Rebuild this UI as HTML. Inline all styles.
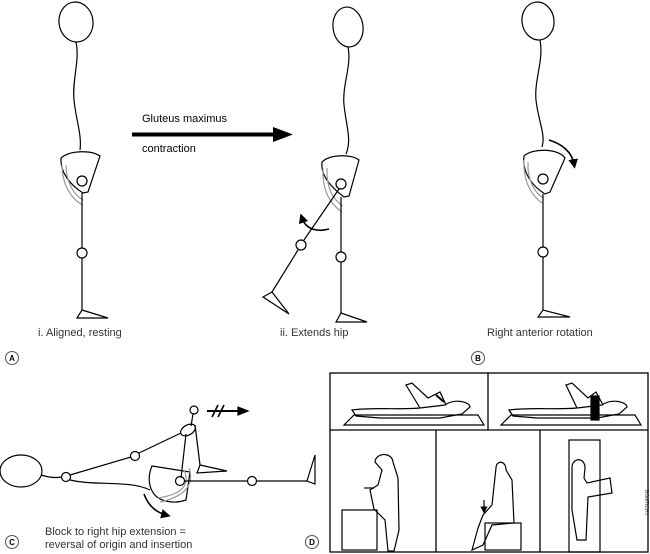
<!DOCTYPE html>
<html><head><meta charset="utf-8"><style>
body{margin:0;background:#fff;}
svg{display:block;font-family:"Liberation Sans",sans-serif;}
</style></head><body>
<svg width="650" height="554" viewBox="0 0 650 554" xmlns="http://www.w3.org/2000/svg">
<defs>
<marker id="ah" markerWidth="6" markerHeight="6" refX="3" refY="3" orient="auto"><path d="M0,0 L6,3 L0,6 z" fill="#000"/></marker>
</defs>
<g fill="none" stroke="#000" stroke-width="1.2">
<!-- Figure 1 -->
<ellipse cx="76" cy="22" rx="17" ry="20" transform="rotate(-8 76 22)"/>
<path d="M76,42 C80,60 72,80 74,100 C76,120 82,135 80,150"/>
<path d="M61,158 C70,150 92,150 100,156 L88,192 L83,193 C70,185 60,172 61,158 z"/>
<path d="M62,165 C62,185 72,200 83,205" stroke="#999"/>
<path d="M66,165 C66,182 74,195 83,200" stroke="#999"/>
<circle cx="82" cy="181" r="5"/>
<line x1="82" y1="193" x2="82" y2="248"/><circle cx="82" cy="253" r="5"/><line x1="82" y1="258" x2="82" y2="310"/>
<path d="M82,310 L77,318 L108,318 z"/>
<!-- Figure 2 -->
<ellipse cx="348" cy="27" rx="15" ry="20" transform="rotate(-8 348 27)"/>
<path d="M348,47 C352,65 342,85 344,105 C346,125 352,140 346,154"/>
<path d="M322,162 C330,154 352,154 359,160 L349,196 L344,197 C332,188 320,176 322,162 z"/>
<path d="M323,168 C322,190 330,204 342,212" stroke="#999"/>
<path d="M327,168 C326,187 333,200 343,206" stroke="#999"/>
<circle cx="341" cy="184" r="5"/>
<line x1="341" y1="197" x2="341" y2="252"/><circle cx="341" cy="257" r="5"/><line x1="341" y1="262" x2="341" y2="313"/>
<path d="M341,313 L336,322 L367,322 z"/>
<line x1="339" y1="189" x2="304" y2="240"/><circle cx="301" cy="245" r="5"/><line x1="298" y1="250" x2="272" y2="292"/>
<path d="M272,292 L263,297 L289,314 z"/>
<path d="M329,229 C318,232 306,230 302,218" stroke-width="1.6" marker-end="url(#ah)"/>
<!-- Figure 3 -->
<ellipse cx="538" cy="21" rx="16" ry="19" transform="rotate(-8 538 21)"/>
<path d="M540,40 C544,60 534,80 536,100 C538,120 546,135 542,147"/>
<path d="M524,156 C532,148 558,148 565,158 L550,192 L545,194 C532,186 522,172 524,156 z"/>
<path d="M524,160 C523,182 532,196 542,203" stroke="#999"/>
<path d="M528,162 C527,180 535,193 543,198" stroke="#999"/>
<circle cx="543" cy="179" r="5"/>
<line x1="543" y1="194" x2="543" y2="247"/><circle cx="543" cy="252" r="5"/><line x1="543" y1="257" x2="543" y2="310"/>
<path d="M543,310 L538,317 L570,317 z"/>
<path d="M549,140 C562,144 572,152 574,164" stroke-width="1.6" marker-end="url(#ah)"/>
<!-- Figure C -->
<ellipse cx="21" cy="471" rx="21" ry="16"/>
<path d="M41,475 C50,478 56,478 62,477"/>
<circle cx="66" cy="477" r="4.5"/>
<line x1="70" y1="475" x2="131" y2="457"/><circle cx="135" cy="456" r="4.5"/>
<line x1="139" y1="453" x2="181" y2="433"/>
<ellipse cx="188" cy="430" rx="8" ry="5" transform="rotate(-30 188 430)"/>
<line x1="191" y1="426" x2="193" y2="414"/><circle cx="194" cy="410" r="4"/>
<path d="M195,425 L200,465"/>
<path d="M186,434 L181,478"/>
<path d="M200,465 L197,473 L227,471 z"/>
<path d="M70,480 C95,486 130,480 150,490"/>
<path d="M152,466 L190,472 L186,500 C175,504 160,502 154,494 C148,486 148,475 152,466 z"/>
<path d="M189,468 C194,482 188,496 160,502" stroke="#999"/>
<path d="M184,470 C190,484 184,494 158,498" stroke="#999"/>
<circle cx="180" cy="481" r="4.5"/>
<line x1="185" y1="481" x2="248" y2="481"/><circle cx="252" cy="481" r="4.5"/><line x1="256" y1="481" x2="307" y2="481"/>
<path d="M307,481 L315,455 L315,484 z"/>
<path d="M144,494 C148,505 155,512 166,515" stroke-width="1.6" marker-end="url(#ah)"/>
<line x1="207" y1="411" x2="240" y2="411" stroke-width="2"/>
<path d="M238,407 L248,411 L238,415 z" fill="#000"/>
<line x1="212" y1="417" x2="218" y2="405" stroke-width="1.6"/><line x1="218" y1="417" x2="224" y2="405" stroke-width="1.6"/>
<!-- Panel D -->
<rect x="330" y="373" width="318" height="179" stroke-width="1.3"/>
<line x1="330" y1="430" x2="648" y2="430" stroke-width="1.3"/>
<line x1="488" y1="373" x2="488" y2="430" stroke-width="1.3"/>
<line x1="436" y1="430" x2="436" y2="552" stroke-width="1.3"/>
<line x1="540" y1="430" x2="540" y2="552" stroke-width="1.3"/>
<path d="M344,425 L354,415 L478,415 L484,425 z"/>
<path d="M352,410 C375,407 400,410 420,408 L445,405 C455,398 470,402 470,407 L462,414 L440,418 L380,418 L356,416 z"/>
<path d="M420,408 L406,385 L412,383 L428,398 L440,392 L446,405"/>
<path d="M436,395 L444,402" stroke-width="2"/>
<path d="M501,425 L511,415 L635,415 L641,425 z"/>
<path d="M509,410 C532,407 557,410 577,408 L602,405 C612,398 627,402 627,407 L619,414 L597,418 L537,418 L513,416 z"/>
<path d="M577,408 L566,385 L572,383 L588,398 L596,392 L603,405"/>
<rect x="591" y="396" width="8" height="24" fill="#000"/>
<rect x="342" y="510" width="35" height="40"/>
<path d="M375,462 C376,452 392,452 393,462 L398,478 L399,530 L394,551 L388,551 L385,520 L374,509 L370,490 L378,485 L382,470 z"/>
<path d="M374,488 L364,488"/>
<rect x="485" y="523" width="36" height="27"/>
<path d="M496,468 C496,460 506,460 506,470 L512,480 L514,523 L492,525 L483,545 L472,550 L478,528 L483,515 L492,505 z"/>
<path d="M484,500 L484,510" marker-end="url(#ah)"/>
<rect x="569" y="440" width="31" height="112"/>
<path d="M572,468 C572,457 585,457 585,468 L584,478 L587,483 L610,478 L612,493 L588,497 L586,540 L577,540 L572,510 L572,485 z"/>
</g>
<text x="142" y="122" font-size="11">Gluteus maximus</text>
<text x="142" y="152" font-size="11">contraction</text>
<path d="M132,132.5 L273,132.5 L273,127 L293,134.5 L273,142 L273,136.5 L132,136.5 z" fill="#000"/>
<text transform="translate(645,490) rotate(90)" font-size="5" fill="#333">BONTICHY</text>
<g font-size="11" fill="#333">
<text x="38" y="336">i. Aligned, resting</text>
<text x="280" y="336">ii. Extends hip</text>
<text x="487" y="336">Right anterior rotation</text>
<text x="45" y="535">Block to right hip extension =</text>
<text x="45" y="548">reversal of origin and insertion</text>
</g>
<g fill="none" stroke="#555"><circle cx="12" cy="358" r="6.5"/><circle cx="478" cy="358" r="6.5"/><circle cx="12" cy="542" r="6.5"/><circle cx="312" cy="542" r="6.5"/></g>
<g font-size="8" font-weight="bold" text-anchor="middle">
<text x="12" y="361">A</text><text x="478" y="361">B</text><text x="12" y="545">C</text><text x="312" y="545">D</text>
</g>
</svg>
</body></html>
